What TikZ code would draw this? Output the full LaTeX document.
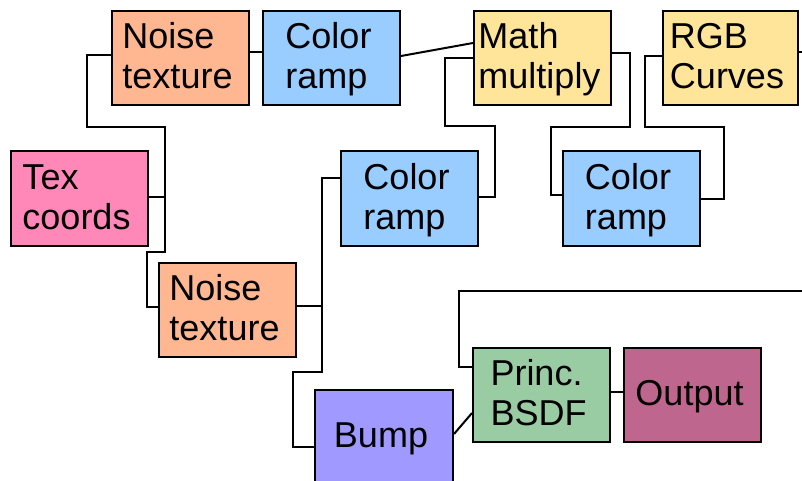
\documentclass[tikz,border=0pt]{standalone}
\usepackage{fontspec}
\setmainfont{Liberation Sans}
\definecolor{cnoise}{RGB}{255,183,146}
\definecolor{cramp}{RGB}{153,204,255}
\definecolor{cmath}{RGB}{255,229,153}
\definecolor{ctex}{RGB}{255,136,184}
\definecolor{cbump}{RGB}{160,153,255}
\definecolor{cbsdf}{RGB}{153,204,163}
\definecolor{cout}{RGB}{191,102,143}
\newcommand\boxtext[1]{\raisebox{-2.5pt}[\height][\depth]{\begin{tabular}{@{}l@{\hspace{6pt}}}#1\end{tabular}}}
\begin{document}
\begin{tikzpicture}[x=1pt,y=1pt,
  nodebox/.style={draw=black, line width=2pt, minimum width=137pt, minimum height=94pt,
    inner sep=0pt, font=\fontsize{36}{40}\selectfont},
  wire/.style={draw=black, line width=2pt}]
\useasboundingbox (0,0) rectangle (802,-481);
\clip (0,0) rectangle (802,-481);
\node[nodebox, fill=cnoise] (NT1) at (180.5,-58) {\boxtext{Noise\\texture}};
\node[nodebox, fill=cramp] (CR1) at (331.5,-58) {\boxtext{Color\\ramp}};
\node[nodebox, fill=cmath] (MM) at (542.5,-58) {\boxtext{Math\\multiply}};
\node[nodebox, fill=cmath, minimum width=135pt] (RGB) at (730,-58) {\boxtext{RGB\\Curves}};
\node[nodebox, fill=ctex] (TC) at (79.5,-198.5) {\boxtext{Tex\\coords}};
\node[nodebox, fill=cramp] (CR2) at (409.5,-198.5) {\boxtext{Color\\ramp}};
\node[nodebox, fill=cramp] (CR3) at (631,-198.5) {\boxtext{Color\\ramp}};
\node[nodebox, fill=cnoise] (NT2) at (227.5,-309.5) {\boxtext{Noise\\texture}};
\node[nodebox, fill=cbump, minimum width=138pt] (Bump) at (384,-437) {\boxtext{Bump}};
\node[nodebox, fill=cbsdf] (PB) at (541.5,-395) {\boxtext{Princ.\\BSDF}};
\node[nodebox, fill=cout] (Out) at (692.5,-395) {\boxtext{Output}};
\coordinate (edgeA) at (802,-52);
\coordinate (edgeB) at (802,-291);
% wires
\draw[wire] ([yshift=3pt]NT1.west) -- (87,-55) -- (87,-127) -- (165,-127) -- (165,-252) -- (147,-252) -- (147,-307) -- ([yshift=2.5pt]NT2.west);
\draw[wire] ([yshift=1.5pt]TC.east) -- (165,-197);
\draw[wire] ([yshift=6pt]NT1.east) -- ([yshift=6pt]CR1.west);
\draw[wire] ([yshift=2pt]CR1.east) -- ([yshift=15pt]MM.west);
\draw[wire] ([yshift=1.5pt]CR2.east) -- (495,-197) -- (495,-126) -- (445,-126) -- (445,-58) -- (MM.west);
\draw[wire] ([yshift=5pt]MM.east) -- (630,-53) -- (630,-127) -- (551,-127) -- (551,-195) -- ([yshift=3.5pt]CR3.west);
\draw[wire] ([yshift=-0.5pt]CR3.east) -- (724,-199) -- (724,-127) -- (645,-127) -- (645,-56) -- ([yshift=2pt]RGB.west);
\draw[wire] ([yshift=6pt]RGB.east) -- (edgeA);
\draw[wire] ([yshift=3.5pt]NT2.east) -- (322,-306);
\draw[wire] ([yshift=20.5pt]CR2.west) -- (322,-178) -- (322,-372) -- (293,-372) -- (293,-447) -- ([yshift=-10pt]Bump.west);
\draw[wire] ([yshift=3pt]Bump.east) -- ([yshift=-18pt]PB.west);
\draw[wire] ([yshift=3pt]PB.east) -- ([yshift=3pt]Out.west);
\draw[wire] ([yshift=28pt]PB.west) -- (459,-367) -- (459,-291) -- (edgeB);
\end{tikzpicture}
\end{document}
